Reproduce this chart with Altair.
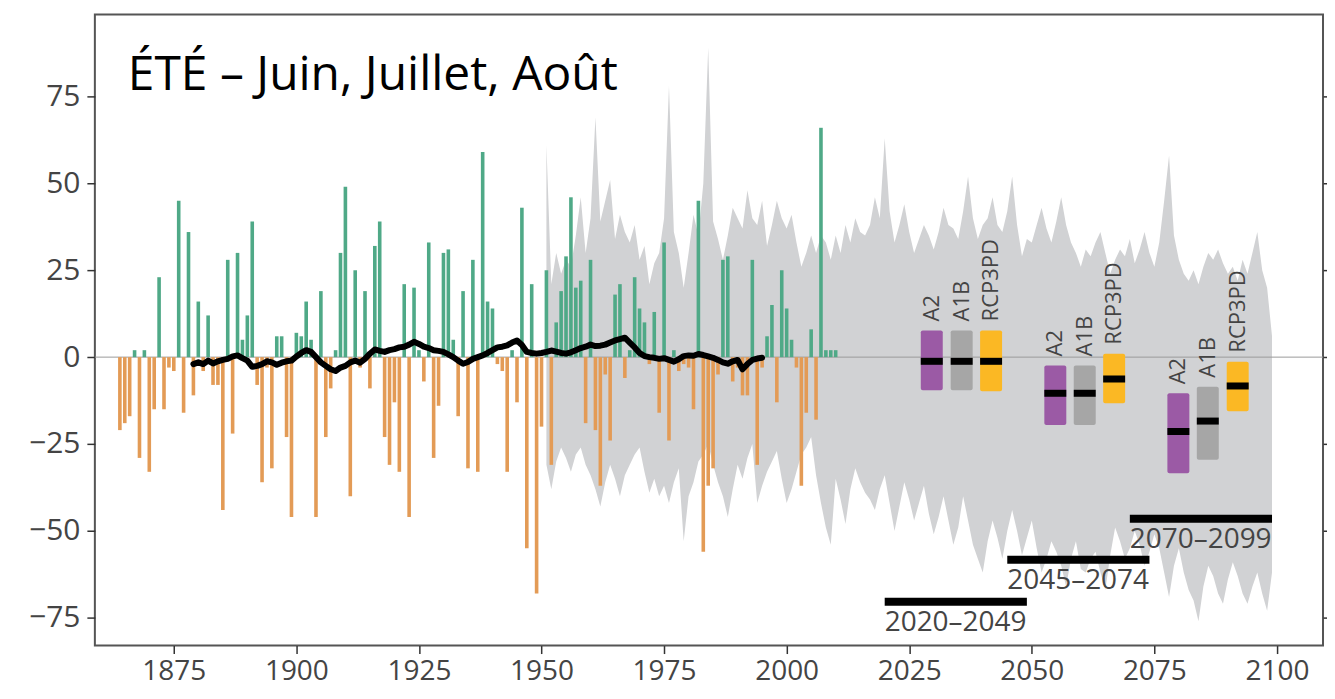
import altair as alt
import pandas as pd

# ---------------- data ----------------
bar_years = list(range(1864, 2011))
bar_values = [
    -21, -19, -17, 2, -29, 2, -33, -15, 23, -15,          # 1864-1873
    -3, -4, 45, -16, 36, -11, 16, -4, 12, -8,             # 1874-1883
    -8, -44, 28, -22, 30, 5, 12, 39, -8, -36,             # 1884-1893
    -3, -32, 6, 6, -23, -46, 7, 6, 16, 5,                 # 1894-1903
    -46, 19, -23, -9, 2, 30, 49, -40, 25, -3,             # 1904-1913
    19, -9, 32, 39, -23, -31, -13, -33, 21, -46,          # 1914-1923
    20, 2, -7, 33, -29, -14, 30, 31, 5, -17,              # 1924-1933
    19, -32, 28, -33, 59, 16, 14, -2, -4, -33,            # 1934-1943
    2, -13, 43, -55, 21, -68, -20, 25, -31, 10,           # 1944-1953
    19, 29, 46, 20, 22, -19, 28, -21, -37, -5,            # 1954-1963
    -24, 18, 21, -6, 2, 23, 14, 10, -2, 13,               # 1964-1973
    -16, 33, -24, 2, -4, -2, -3, -15, 45, -56,            # 1974-1983
    -37, -32, -5, 28, 29, -7, -3, -11, -11, 28,           # 1984-1993
    -31, -3, 6, 15, -13, 25, 14, 5, -3, -37,              # 1994-2003
    -16, 8, -18, 66, 2, 2, 2,                             # 2004-2010
]

mean_years = list(range(1879, 1996))
mean_values = [
    -2.0, -1.5, -2.0, -1.0, -1.8, -1.2, -0.8, -0.5, 0.2, 0.5,     # 1879-1888
    -0.3, -1.0, -2.8, -2.5, -2.0, -1.2, -1.5, -2.2, -1.6, -1.2,   # 1889-1898
    -1.0, 0.2, 1.2, 2.0, 1.5, 0.0, -1.5, -2.5, -3.5, -4.0,        # 1899-1908
    -3.0, -2.5, -1.5, -1.0, -1.6, -0.5, 1.0, 2.2, 1.8, 1.5,       # 1909-1918
    2.0, 2.3, 2.8, 3.0, 3.6, 4.4, 3.8, 3.0, 2.6, 2.0,             # 1919-1928
    1.8, 1.5, 0.8, 0.0, -1.0, -1.9, -1.4, -0.5, 0.0, 0.5,         # 1929-1938
    1.2, 2.0, 2.8, 3.0, 3.4, 4.2, 4.8, 3.5, 1.5, 1.2,             # 1939-1948
    1.0, 1.2, 1.5, 1.9, 1.6, 1.2, 1.0, 1.4, 2.0, 2.6,             # 1949-1958
    3.0, 3.6, 3.2, 3.3, 3.6, 4.2, 4.8, 5.2, 5.6, 4.2,             # 1959-1968
    2.8, 1.2, 0.3, 0.0, -0.2, -0.5, -0.3, -0.8, -1.3, -0.6,       # 1969-1978
    0.3, 0.5, 0.4, 0.9, 0.6, 0.2, -0.2, -0.8, -1.5, -1.9,         # 1979-1988
    -1.2, -0.8, -3.5, -2.0, -0.8, -0.4, -0.2,                     # 1989-1995
]

band_years = list(range(1951, 2100))
band_high = [
    61, 21, 30, 24, 28, 26, 35, 46, 30, 40,
    69, 39, 45, 51, 34, 41, 36, 33, 38, 28,
    32, 21, 27, 30, 40, 78, 36, 30, 20, 30,
    41, 35, 50, 89, 39, 34, 28, 35, 43, 40,
    37, 48, 40, 38, 45, 32, 38, 45, 40, 37,
    41, 33, 26, 30, 35, 30, 35, 33, 28, 35,
    30, 38, 33, 40, 36, 35, 38, 46, 40, 63,
    42, 33, 38, 44, 36, 30, 34, 38, 35, 31,
    36, 43, 38, 37, 34, 42, 52, 40, 34, 38,
    40, 46, 38, 36, 42, 52, 38, 29, 34, 33,
    38, 43, 37, 33, 39, 46, 38, 33, 30, 26,
    31, 29, 33, 36, 30, 24, 28, 31, 29, 34,
    27, 31, 36, 30, 26, 33, 45, 58, 35, 28,
    24, 22, 25, 21, 26, 30, 28, 31, 27, 24,
    26, 22, 28, 24, 30, 36, 25, 20, 6,
]
band_low = [
    -31, -38, -30, -26, -29, -33, -28, -26, -31, -34,
    -38, -43, -36, -31, -35, -40, -34, -31, -28, -26,
    -33, -39, -35, -40, -37, -42, -36, -32, -53, -40,
    -36, -30, -28, -25, -31, -36, -40, -46, -38, -31,
    -35, -29, -25, -42, -37, -33, -30, -27, -35, -42,
    -38, -33, -28, -26, -23, -34, -42, -49, -54, -35,
    -41, -48, -38, -32, -36, -39, -41, -44, -38, -34,
    -42, -50, -43, -36, -41, -47, -42, -37, -45, -51,
    -46, -40, -47, -54, -49, -40, -47, -54, -58, -62,
    -53, -47, -52, -58, -50, -44, -50, -57, -52, -47,
    -55, -62, -58, -53, -56, -60, -66, -58, -53, -61,
    -62, -58, -56, -62, -67, -57, -49, -53, -58, -55,
    -50, -54, -60, -56, -51, -55, -62, -69, -60, -55,
    -62, -67, -70, -76, -66, -60, -63, -68, -71, -64,
    -59, -63, -68, -71, -66, -62, -68, -73, -62,
]

period_labels = ["2020–2049", "2045–2074", "2070–2099"]
period_start = [2020, 2045, 2070]
period_end = [2049, 2074, 2099]
period_level = [-70.4, -58.3, -46.5]

scenarios = ["A2", "A1B", "RCP3PD"] * 3
scenario_year = [2029.6, 2035.7, 2041.7, 2054.8, 2060.8, 2066.8, 2079.9, 2085.9, 2092.0]
scenario_high = [7.7, 7.7, 7.7, -2.4, -2.4, 1.0, -10.4, -8.5, -1.3]
scenario_low = [-9.5, -9.5, -9.8, -19.5, -19.5, -13.3, -33.4, -29.5, -15.6]
scenario_median = [-1.2, -1.2, -1.2, -10.4, -10.4, -6.3, -21.4, -18.4, -8.3]

x_ticks = [1875, 1900, 1925, 1950, 1975, 2000, 2025, 2050, 2075, 2100]
y_ticks = [-75, -50, -25, 0, 25, 50, 75]

title_text = "ÉTÉ – Juin, Juillet, Août"

# ---------------- tables ----------------
bars_df = pd.DataFrame({"year": bar_years, "v": bar_values, "zero": 0})
mean_df = pd.DataFrame({"year": mean_years, "m": mean_values})
band_df = pd.DataFrame({"year": band_years, "hi": band_high, "lo": band_low})
period_df = pd.DataFrame({"label": period_labels, "s": period_start,
                          "e": period_end, "lvl": period_level})
scen_df = pd.DataFrame({"scen": scenarios, "yr": scenario_year, "hi": scenario_high,
                        "lo": scenario_low, "med": scenario_median})
zero_df = pd.DataFrame({"z": [0]})
title_df = pd.DataFrame({"t": [title_text]})

# ---------------- styles ----------------
FONT = "Open Sans"
TXT = "#444444"
GREEN = "#4fa987"
ORANGE = "#e39b56"
BAND = "#d1d2d4"

xs = alt.Scale(domain=[1858.9, 2109.4], nice=False, zero=False, padding=0)
ys = alt.Scale(domain=[-83, 98.6], nice=False, zero=False, padding=0)

x_axis = alt.Axis(values=x_ticks, format="d", title=None, domain=False, grid=False,
                  tickSize=8, tickColor="#333333", tickWidth=1.5,
                  labelFontSize=28, labelColor=TXT, labelFont=FONT, labelPadding=4)
y_left = alt.Axis(values=y_ticks, format="d", title=None, domain=False, grid=False,
                  tickSize=8, tickColor="#333333", tickWidth=1.5,
                  labelFontSize=30, labelColor=TXT, labelFont=FONT, labelPadding=7)
y_right = alt.Axis(orient="right", values=y_ticks, labels=False, title=None,
                   domain=False, grid=False, tickSize=10, tickColor="#333333",
                   tickWidth=1.5)

X = lambda f: alt.X(f, scale=xs, axis=x_axis)

band = alt.Chart(band_df).mark_area(color=BAND, opacity=1).encode(
    x=X("year:Q"),
    y=alt.Y("hi:Q", scale=ys, axis=y_left),
    y2="lo:Q",
)

zero_line = alt.Chart(zero_df).mark_rule(color="#9a9a9a", strokeWidth=1).encode(
    y=alt.Y("z:Q", scale=ys, axis=y_right),
)

bars = alt.Chart(bars_df).mark_bar(width=3.6).encode(
    x=X("year:Q"),
    y=alt.Y("v:Q", scale=ys, axis=None),
    y2="zero:Q",
    color=alt.condition(alt.datum.v > 0, alt.value(GREEN), alt.value(ORANGE)),
)

mean_line = alt.Chart(mean_df).mark_line(color="black", strokeWidth=6,
                                          strokeCap="round", strokeJoin="round").encode(
    x=X("year:Q"),
    y=alt.Y("m:Q", scale=ys, axis=None),
)

boxes = alt.Chart(scen_df).mark_bar(width=22, cornerRadius=2).encode(
    x=X("yr:Q"),
    y=alt.Y("lo:Q", scale=ys, axis=None),
    y2="hi:Q",
    color=alt.Color("scen:N", scale=alt.Scale(domain=["A2", "A1B", "RCP3PD"],
                                              range=["#9b5aa5", "#a6a6a6", "#fbb824"]),
                    legend=None),
)

medians = alt.Chart(scen_df).mark_tick(orient="horizontal", size=22, thickness=7,
                                       color="black", opacity=1).encode(
    x=X("yr:Q"),
    y=alt.Y("med:Q", scale=ys, axis=None),
)

scen_labels = alt.Chart(scen_df).mark_text(angle=270, align="left", baseline="middle",
                                           dx=9, fontSize=22, font=FONT, color=TXT).encode(
    x=X("yr:Q"),
    y=alt.Y("hi:Q", scale=ys, axis=None),
    text="scen:N",
)

period_bars = alt.Chart(period_df).mark_rule(color="black", strokeWidth=8).encode(
    x=X("s:Q"),
    x2="e:Q",
    y=alt.Y("lvl:Q", scale=ys, axis=None),
)

period_text = alt.Chart(period_df).mark_text(align="left", baseline="top", dy=7,
                                             fontSize=28, font=FONT, color=TXT).encode(
    x=X("s:Q"),
    y=alt.Y("lvl:Q", scale=ys, axis=None),
    text="label:N",
)

title = alt.Chart(title_df).mark_text(align="left", baseline="alphabetic", fontSize=48,
                                      font=FONT, color="black").encode(
    x=alt.value(33),
    y=alt.value(76),
    text="t:N",
)

chart = alt.layer(
    band, zero_line, bars, mean_line, boxes, medians, scen_labels,
    period_bars, period_text, title,
).resolve_axis(y="independent").properties(
    width=1230,
    height=632,
    autosize=alt.AutoSizeParams(type="none"),
    padding={"left": 87, "top": 6, "right": 4, "bottom": 45},
    background="white",
).configure_view(stroke="#555555", strokeWidth=2)

chart.save("out.html", embed_options={"renderer": "svg", "actions": False})
